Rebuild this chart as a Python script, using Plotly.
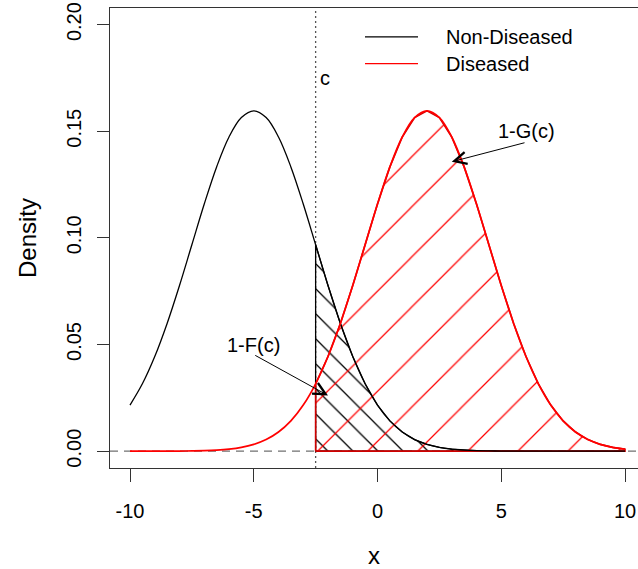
import plotly.graph_objects as go

# ---------------- data ----------------
x_grid = [-10.0, -9.5, -9.0, -8.5, -8.0, -7.5, -7.0, -6.5, -6.0, -5.5,
          -5.0, -4.5, -4.0, -3.5, -3.0, -2.5, -2.0, -1.5, -1.0, -0.5,
          0.0, 0.5, 1.0, 1.5, 2.0, 2.5, 3.0, 3.5, 4.0, 4.5,
          5.0, 5.5, 6.0, 6.5, 7.0, 7.5, 8.0, 8.5, 9.0, 9.5, 10.0]

non_diseased = [0.02160, 0.03158, 0.04437, 0.05989, 0.07768, 0.09679, 0.11588, 0.13329, 0.14731, 0.15642,
                0.15958, 0.15642, 0.14731, 0.13329, 0.11588, 0.09679, 0.07768, 0.05989, 0.04437, 0.03158,
                0.02160, 0.01419, 0.00896, 0.00543, 0.00317, 0.00177, 0.00095, 0.00049, 0.00024, 0.00012,
                0.00005, 0.00002, 0.00001, 0.0, 0.0, 0.0, 0.0, 0.0, 0.0, 0.0, 0.0]

diseased = [0.0, 0.0, 0.00001, 0.00002, 0.00005, 0.00012, 0.00024, 0.00049, 0.00095, 0.00177,
            0.00317, 0.00543, 0.00896, 0.01419, 0.02160, 0.03158, 0.04437, 0.05989, 0.07768, 0.09679,
            0.11588, 0.13329, 0.14731, 0.15642, 0.15958, 0.15642, 0.14731, 0.13329, 0.11588, 0.09679,
            0.07768, 0.05989, 0.04437, 0.03158, 0.02160, 0.01419, 0.00896, 0.00543, 0.00317, 0.00177,
            0.00095]

cutoff = -2.5
x_ticks = [-10, -5, 0, 5, 10]
x_tick_labels = ["-10", "-5", "0", "5", "10"]
y_ticks = [0.0, 0.05, 0.10, 0.15, 0.20]
y_tick_labels = ["0.00", "0.05", "0.10", "0.15", "0.20"]
series_names = ["Non-Diseased", "Diseased"]
series_colors = ["black", "red"]

# label / arrow anchor points (data units)
label_1f = {"text": "1-F(c)", "x": -5.0, "y": 0.050, "tail": (-5.0, 0.0453), "head": (-2.0, 0.0261)}
label_1g = {"text": "1-G(c)", "x": 6.0, "y": 0.150, "tail": (6.0, 0.1448), "head": (3.0, 0.1357)}
label_c = {"text": "c", "x": -2.12, "y": 0.175}

FONT = "Liberation Sans, Arial, Helvetica, sans-serif"

i0 = x_grid.index(cutoff)


def region(vals):
    xs = [cutoff] + x_grid[i0:] + [x_grid[-1], cutoff]
    ys = [0.0] + vals[i0:] + [0.0, 0.0]
    return xs, ys


fig = go.Figure()

# hatched area under non-diseased curve (right of cutoff)
rx, ry = region(non_diseased)
fig.add_trace(go.Scatter(
    x=rx, y=ry, mode="lines", fill="toself",
    fillcolor="rgba(0,0,0,0)",
    fillpattern=dict(shape="\\", size=17.7, solidity=0.075, fgopacity=1, fillmode="replace",
                     fgcolor="black", bgcolor="rgba(0,0,0,0)"),
    line=dict(color="black", width=1.3), showlegend=False, hoverinfo="skip"))

# hatched area under diseased curve (right of cutoff)
rx, ry = region(diseased)
fig.add_trace(go.Scatter(
    x=rx, y=ry, mode="lines", fill="toself",
    fillcolor="rgba(0,0,0,0)",
    fillpattern=dict(shape="/", size=35.4, solidity=0.035, fgopacity=1, fillmode="replace",
                     fgcolor="red", bgcolor="rgba(0,0,0,0)"),
    line=dict(color="#d00000", width=1.6), showlegend=False, hoverinfo="skip"))

# density curves
fig.add_trace(go.Scatter(x=x_grid, y=non_diseased, mode="lines", name=series_names[0],
                         line=dict(color=series_colors[0], width=1.3, shape="spline"),
                         showlegend=False))
fig.add_trace(go.Scatter(x=x_grid, y=diseased, mode="lines", name=series_names[1],
                         line=dict(color=series_colors[1], width=1.7, shape="spline"),
                         showlegend=False))

# reference lines
fig.add_shape(type="line", xref="x", yref="paper", x0=cutoff, x1=cutoff, y0=0, y1=1,
              line=dict(color="#555555", width=1.3, dash="2px,3px"), layer="below")
fig.add_shape(type="line", xref="paper", yref="y", x0=0, x1=1, y0=0, y1=0,
              line=dict(color="#707070", width=1.4, dash="8px,6px"), layer="below")

# legend (drawn as keys + labels in paper coordinates, no box)
PLOT_L, PLOT_W, PLOT_T, PLOT_H = 110, 528, 8, 463
leg_rows_px = [37, 64]
for name, col, ypx in zip(series_names, series_colors, leg_rows_px):
    yp = 1 - (ypx - PLOT_T) / PLOT_H
    fig.add_shape(type="line", xref="paper", yref="paper",
                  x0=(365 - PLOT_L) / PLOT_W, x1=(418 - PLOT_L) / PLOT_W, y0=yp, y1=yp,
                  line=dict(color=col, width=1.2))
    fig.add_annotation(xref="paper", yref="paper", x=(444 - PLOT_L) / PLOT_W, y=yp,
                       xanchor="left", yanchor="middle", text=name, showarrow=False,
                       font=dict(family=FONT, size=20, color="black"))

# annotations
for lab in (label_1f, label_1g):
    fig.add_annotation(x=lab["x"], y=lab["y"], text=lab["text"], showarrow=False,
                       font=dict(family=FONT, size=20, color="black"))
    fig.add_annotation(x=lab["head"][0], y=lab["head"][1], ax=lab["tail"][0], ay=lab["tail"][1],
                       axref="x", ayref="y", text="", showarrow=True,
                       arrowhead=5, arrowsize=2.4, arrowwidth=1.0, arrowcolor="black")
fig.add_annotation(x=label_c["x"], y=label_c["y"], text=label_c["text"], showarrow=False,
                   font=dict(family=FONT, size=20, color="black"))

fig.update_layout(
    width=638, height=569,
    margin=dict(l=110, r=0, t=8, b=98),
    paper_bgcolor="white", plot_bgcolor="white",
    font=dict(family=FONT, size=20, color="black"),
    showlegend=False,
    xaxis=dict(range=[-10.808, 10.525], tickvals=x_ticks, ticktext=x_tick_labels,
               ticks="outside", ticklen=13,
               tickwidth=1.2, tickcolor="#333", showline=True, linecolor="#333", linewidth=1.3,
               mirror=True, showgrid=False, zeroline=False, ticklabelstandoff=12,
               title=dict(text="x", standoff=30), tickfont=dict(size=20)),
    yaxis=dict(range=[-0.0079, 0.2078], tickvals=y_ticks, ticktext=y_tick_labels, tickangle=-90,
               ticks="outside", ticklen=12, tickwidth=1.2, tickcolor="#333", showline=True,
               linecolor="#333", linewidth=1.3, showgrid=False, zeroline=False,
               ticklabelstandoff=8, title=dict(text="Density", standoff=19), tickfont=dict(size=20)),
)

fig.write_html("out.html")
